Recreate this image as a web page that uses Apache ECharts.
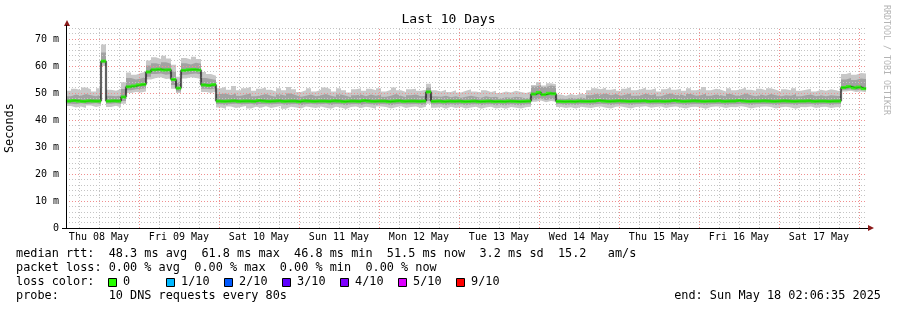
<!DOCTYPE html>
<html><head><meta charset="utf-8">
<script src="https://cdn.jsdelivr.net/npm/echarts@6/dist/echarts.min.js"></script>
<style>html,body{margin:0;padding:0;background:#fff}#c{width:897px;height:310px}</style>
</head><body><div id="c"></div>
<script>
// ---- data (ms), one sample per 1.5 h, starting Thu 08 May 02:06:35 ----
const dayLabels = ['Thu 08 May','Fri 09 May','Sat 10 May','Sun 11 May','Mon 12 May','Tue 13 May','Wed 14 May','Thu 15 May','Fri 16 May','Sat 17 May'];
const dayNoonHours = [12,36,60,84,108,132,156,180,204,228];
const yTicks = [0,10,20,30,40,50,60,70];

const median = [
47.0,47.2,47.0,46.9,47.1,47.0,47.0,61.8,47.0,47.1,
47.0,48.5,52.3,52.6,53.0,53.2,57.8,58.6,58.8,58.5,
58.6,55.0,51.8,58.4,58.6,58.7,58.5,53.0,52.8,53.1,
47.0,46.9,47.0,47.1,46.9,47.0,47.0,46.9,47.2,47.0,
46.9,47.0,47.1,46.9,47.0,47.0,46.8,47.1,47.0,46.9,
47.0,47.0,46.9,47.1,47.0,46.8,47.0,47.0,46.9,47.2,
47.0,46.9,47.0,47.0,46.8,47.0,47.1,46.9,47.0,47.0,
46.9,47.0,50.4,46.9,47.0,46.8,47.0,46.9,47.0,46.8,
46.9,47.0,46.8,46.9,47.0,46.8,46.9,46.8,47.0,46.9,
46.8,46.9,47.0,49.6,50.2,49.4,49.9,49.7,46.9,46.8,
46.9,46.8,47.0,46.9,46.9,47.0,47.2,47.0,46.9,47.0,
47.1,47.0,46.9,47.0,47.0,47.1,46.9,47.0,47.0,46.9,
47.0,47.2,47.0,46.9,47.0,47.1,47.0,46.9,47.0,47.0,
47.1,46.9,47.0,47.0,47.2,47.0,46.9,47.0,47.0,47.1,
47.0,46.9,47.0,47.1,47.0,46.9,47.0,47.0,47.1,46.9,
47.0,47.0,46.9,47.0,47.0,52.0,52.4,51.9,52.2,51.6];

const smokeMax = [
50.8,51.6,51.0,52.0,51.4,50.6,51.8,68.0,51.2,50.8,
51.5,54.0,57.6,56.8,57.4,58.0,62.0,63.2,62.6,63.8,
62.8,60.5,56.0,63.0,62.4,63.4,62.6,57.8,57.0,56.4,
51.8,52.4,51.2,52.6,51.0,51.8,52.2,50.8,51.6,52.0,
51.2,50.6,51.8,51.0,52.2,51.4,50.4,51.0,51.8,50.6,
51.2,52.0,51.4,50.6,51.8,51.0,50.2,51.4,51.8,50.8,
51.6,51.0,51.8,50.6,51.2,52.0,51.0,50.4,51.4,51.6,
50.8,51.2,53.4,51.0,50.6,51.2,50.4,51.0,50.2,50.8,
51.4,50.6,50.2,51.0,50.4,50.8,50.0,50.6,50.2,50.8,
50.4,50.0,50.6,53.0,54.0,52.8,53.6,53.2,49.4,49.0,
49.6,49.2,49.8,49.4,51.0,51.8,51.4,52.0,51.2,51.6,
50.8,51.6,52.2,51.0,51.4,52.0,51.2,51.8,50.6,51.4,
52.0,51.2,51.6,50.8,51.8,51.0,51.4,52.2,51.0,51.6,
51.2,50.6,51.8,51.0,51.4,52.0,51.2,50.8,51.6,51.0,
51.8,51.2,50.6,51.4,51.0,51.8,50.8,51.2,51.6,50.6,
51.2,50.8,51.4,51.0,50.6,57.0,57.6,56.8,57.4,57.2];

const smokeUpper = [
48.8,49.4,49.0,49.6,49.2,48.8,49.4,65.0,49.0,48.8,
49.2,51.5,55.6,55.0,55.4,56.0,60.2,61.0,60.6,61.4,
60.8,58.0,54.0,61.0,60.6,61.2,60.8,55.6,55.2,54.8,
49.6,49.8,49.2,49.8,49.0,49.4,49.8,48.8,49.2,49.6,
49.0,48.6,49.4,49.0,49.8,49.2,48.6,49.0,49.4,48.8,
49.2,49.6,49.0,48.6,49.4,49.0,48.4,49.2,49.4,48.8,
49.4,49.0,49.4,48.6,49.0,49.6,49.0,48.4,49.2,49.4,
48.8,49.0,52.0,48.8,48.6,49.0,48.4,48.8,48.2,48.6,
49.0,48.6,48.2,48.8,48.4,48.6,48.0,48.4,48.2,48.6,
48.4,48.0,48.4,52.4,53.0,52.2,52.8,52.4,48.0,47.8,
48.2,47.9,48.3,48.0,49.2,49.6,49.4,49.8,49.2,49.6,
49.0,49.4,49.8,49.0,49.2,49.8,49.2,49.6,48.8,49.4,
49.8,49.2,49.4,48.8,49.6,49.0,49.2,49.8,49.0,49.4,
49.2,48.8,49.6,49.0,49.2,49.8,49.2,48.8,49.4,49.0,
49.6,49.2,48.8,49.2,49.0,49.6,48.8,49.2,49.4,48.8,
49.2,48.8,49.2,49.0,48.8,55.0,55.6,54.8,55.4,55.2];

const smokeLower = [
46.0,45.8,46.2,45.9,46.0,46.2,45.8,61.0,46.0,46.2,
45.9,47.0,51.0,51.4,51.6,51.8,56.0,57.0,57.2,56.8,
57.0,53.0,50.6,56.8,57.0,57.2,56.8,51.6,51.4,51.8,
45.8,45.6,45.9,46.0,45.7,45.8,46.0,45.6,45.9,45.8,
45.7,45.9,46.0,45.6,45.8,45.9,45.5,45.8,46.0,45.7,
45.8,46.0,45.6,45.9,45.8,45.5,45.8,45.9,45.6,46.0,
45.8,45.6,45.9,45.8,45.5,45.8,46.0,45.7,45.8,45.9,
45.6,45.8,47.0,45.7,45.8,45.5,45.8,45.6,45.8,45.5,
45.7,45.8,45.5,45.7,45.8,45.5,45.6,45.5,45.8,45.6,
45.5,45.7,45.8,47.6,48.0,47.4,47.8,47.6,45.8,45.6,
45.7,45.6,45.8,45.7,45.6,45.8,46.0,45.8,45.6,45.8,
45.9,45.8,45.6,45.8,45.9,46.0,45.7,45.8,45.9,45.6,
45.8,46.0,45.8,45.6,45.8,45.9,45.8,45.6,45.8,45.9,
45.9,45.6,45.8,45.8,46.0,45.8,45.6,45.8,45.9,45.9,
45.8,45.6,45.8,45.9,45.8,45.6,45.8,45.8,45.9,45.6,
45.8,45.9,45.6,45.8,45.8,51.2,51.4,51.0,51.2,51.0];

const smokeMin = [
45.2,44.6,45.0,44.4,45.4,44.8,45.2,60.0,44.8,45.3,
44.6,46.0,50.0,50.4,50.2,50.6,55.0,55.6,55.8,55.2,
55.4,51.6,50.0,55.4,55.8,55.6,55.2,50.4,50.0,50.6,
44.6,44.2,45.0,44.4,44.8,45.2,44.3,44.9,44.5,45.1,
44.4,44.8,45.2,44.2,44.9,44.6,44.3,45.0,44.7,44.4,
45.0,44.5,44.2,44.9,44.6,44.1,44.8,45.0,44.4,44.9,
44.6,44.2,45.0,44.8,44.3,44.7,45.1,44.4,44.8,45.0,
44.4,44.9,46.0,44.5,44.8,44.2,44.9,44.4,44.8,44.3,
44.6,44.9,44.2,44.6,44.9,44.3,44.6,44.2,44.8,44.5,
44.3,44.7,44.9,46.8,47.2,46.6,47.0,46.8,44.8,44.4,
44.7,44.3,44.9,44.6,44.4,44.8,45.0,44.5,44.3,44.9,
45.0,44.6,44.3,44.8,44.9,45.1,44.5,44.8,45.0,44.4,
44.8,45.0,44.6,44.3,44.8,44.9,44.6,44.2,44.8,45.0,
44.9,44.4,44.8,44.7,45.1,44.8,44.3,44.6,44.9,45.0,
44.8,44.3,44.7,44.9,44.6,44.2,44.8,44.7,45.0,44.4,
44.8,44.9,44.4,44.7,44.8,50.6,50.8,50.4,50.6,50.3];

const START_H = 2 + 6/60 + 35/3600;   // hours after Thu 08 May 00:00
const STEP_H = 1.5;
const SPAN_H = 240;
const lossColors = [['0','#26ff00'],['1/10','#00b8ff'],['2/10','#0059ff'],['3/10','#5e00ff'],['4/10','#7e00ff'],['5/10','#dd00ff'],['9/10','#ff0000']];

// ---- build ----
const xs = median.map((_, i) => START_H + i * STEP_H);
function pairs(arr) {
  const d = arr.map((v, i) => [xs[i], v]);
  d.push([START_H + SPAN_H, arr[arr.length - 1]]);
  return d;
}

const FONT = 'DejaVu Sans Mono';
const LIGHT = '#c8c8c8', MID = '#a2a2a2';
const GRID_MINOR = '#c4c4c4', GRID_MAJOR = '#f08e8e';

// painter's order: each area fills from the axis up to its edge
function area(values, color, z) {
  return { type: 'line', step: 'end', data: pairs(values), symbol: 'none', silent: true,
    lineStyle: { opacity: 0 }, areaStyle: { color: color, opacity: 1 }, z: z, animation: false };
}

const vLines = [], hLines = [];
for (let h = 6; h <= 240; h += 6) {
  const major = h % 24 === 0;
  vLines.push({ xAxis: h, lineStyle: { color: major ? GRID_MAJOR : GRID_MINOR, type: [1, 2], width: 1 } });
}
for (let v = 2; v <= 74; v += 2) {
  const major = v % 10 === 0;
  hLines.push({ yAxis: v, lineStyle: { color: major ? GRID_MAJOR : GRID_MINOR, type: [1, 2], width: 1 } });
}

const series = [
  area(smokeMax, LIGHT, 2),
  area(smokeUpper, MID, 2),
  area(smokeLower, LIGHT, 2),
  area(smokeMin, '#ffffff', 2),
  { type: 'line', data: pairs(smokeMin), symbol: 'none', silent: true, lineStyle: { opacity: 0 }, z: 3, animation: false,
    markLine: { silent: true, symbol: ['none', 'none'], label: { show: false }, animation: false,
      emphasis: { disabled: true }, data: vLines.concat(hLines) } },
  { type: 'line', step: 'end', data: pairs(median), symbol: 'none', silent: true,
    lineStyle: { color: '#555', width: 2.5, opacity: 0.35 }, z: 4, animation: false },
  { type: 'line', step: 'end', data: pairs(median), symbol: 'none', silent: true,
    lineStyle: { color: '#000', width: 1 }, z: 5, animation: false },
  { type: 'scatter', data: median.map((v, i) => [xs[i] + STEP_H / 2, v]), symbol: 'rect', symbolSize: [5.3, 3],
    itemStyle: { color: '#22ff00' }, silent: true, z: 6, animation: false }
];

const graphics = [];
const txt = (x, y, s, extra) => graphics.push(Object.assign({ type: 'text', x: x, y: y, silent: true,
  style: Object.assign({ text: s, font: '11.85px "' + FONT + '"', fill: '#000', verticalAlign: 'middle', align: 'left' }, extra || {}) }));
txt(16, 254, 'median rtt:  48.3 ms avg  61.8 ms max  46.8 ms min  51.5 ms now  3.2 ms sd  15.2   am/s');
txt(16, 268, 'packet loss: 0.00 % avg  0.00 % max  0.00 % min  0.00 % now');
txt(16, 282, 'loss color:');
lossColors.forEach((lc, k) => {
  const bx = 108.5 + k * 58;
  graphics.push({ type: 'rect', silent: true, shape: { x: bx, y: 278.5, width: 8, height: 8 },
    style: { fill: lc[1], stroke: '#000', lineWidth: 1 } });
  txt(bx + 14.5, 282, lc[0]);
});
txt(16, 296, 'probe:       10 DNS requests every 80s');
txt(881, 296, 'end: Sun May 18 02:06:35 2025', { align: 'right' });
graphics.push({ type: 'text', x: 886, y: 60, rotation: -Math.PI / 2, silent: true,
  style: { text: 'RRDTOOL / TOBI OETIKER', font: '8.3px "' + FONT + '"', fill: '#b4b4b4', align: 'center', verticalAlign: 'middle' } });
// axis arrows and extensions
graphics.push({ type: 'polygon', silent: true, z: 20, shape: { points: [[64, 26], [70, 26], [67, 20]] }, style: { fill: '#8b1a1a' } });
graphics.push({ type: 'polygon', silent: true, z: 20, shape: { points: [[868, 225], [868, 231], [874, 228]] }, style: { fill: '#8b1a1a' } });
graphics.push({ type: 'line', silent: true, z: 20, shape: { x1: 66.5, y1: 25, x2: 66.5, y2: 29 }, style: { stroke: '#000', lineWidth: 1 } });
graphics.push({ type: 'line', silent: true, z: 20, shape: { x1: 865, y1: 228.5, x2: 868, y2: 228.5 }, style: { stroke: '#000', lineWidth: 1 } });
graphics.push({ type: 'line', silent: true, z: 20, shape: { x1: 62, y1: 228.5, x2: 67, y2: 228.5 }, style: { stroke: '#000', lineWidth: 1 } });

const chart = echarts.init(document.getElementById('c'), null, { renderer: 'canvas' });
chart.setOption({
  backgroundColor: '#fff',
  animation: false,
  title: { text: 'Last 10 Days', left: 'center', top: 8, textStyle: { fontFamily: FONT, fontSize: 13, fontWeight: 'normal', color: '#000' } },
  grid: { left: 66, right: 31, top: 28.2, bottom: 82, containLabel: false, outerBoundsMode: 'none' },
  xAxis: {
    type: 'value', min: START_H, max: START_H + SPAN_H, z: 10,
    axisLine: { lineStyle: { color: '#000', width: 1 } },
    axisTick: { show: false }, splitLine: { show: false },
    axisLabel: { customValues: dayNoonHours, margin: 4, fontFamily: FONT, fontSize: 10, color: '#000',
      formatter: v => dayLabels[dayNoonHours.indexOf(Math.round(v))] || '' }
  },
  yAxis: {
    type: 'value', min: 0, max: 74, interval: 10, z: 10,
    name: 'Seconds', nameLocation: 'middle', nameRotate: 90, nameGap: 50,
    nameTextStyle: { fontFamily: FONT, fontSize: 11.85, color: '#000' },
    axisLine: { show: true, lineStyle: { color: '#000', width: 1 } },
    axisTick: { show: false }, splitLine: { show: false },
    axisLabel: { margin: 7, fontFamily: FONT, fontSize: 10, color: '#000', showMaxLabel: false,
      formatter: v => yTicks.indexOf(v) < 0 ? '' : (v === 0 ? '0' : v + ' m') }
  },
  graphic: graphics,
  series: series
});
</script></body></html>
